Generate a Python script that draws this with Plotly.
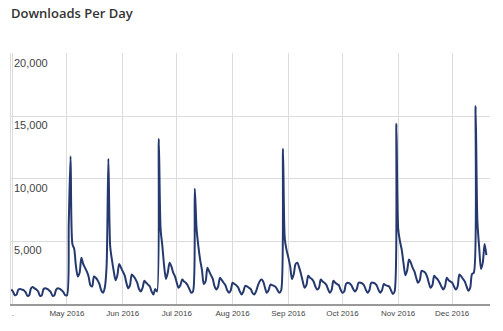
import plotly.graph_objects as go
import pandas as pd

start_date = "2016-03-31"
downloads = [
    1150,
    # April
    1000, 700, 750, 1150, 1200, 1150, 1100, 950, 650, 700,
    1250, 1350, 1250, 1150, 1000, 650, 700, 1200, 1250, 1200,
    1100, 950, 650, 700, 1150, 1250, 1200, 1100, 950, 700,
    # May
    700, 6500, 11800, 4800, 4400, 3000, 2200, 2500, 3700, 3200,
    2900, 2600, 2200, 1500, 1400, 2200, 2100, 1900, 1600, 1100,
    900, 1300, 3000, 11600, 4600, 3500, 2600, 1900, 2300, 3200, 2900,
    # June
    2600, 2300, 1700, 1250, 1500, 2350, 2200, 2000, 1700, 1200,
    1000, 1300, 1850, 1700, 1550, 1400, 1000, 750, 1200, 1000,
    13200, 6000, 4600, 3000, 2000, 2500, 3300, 3000, 2500, 2200,
    # July
    1700, 1300, 1500, 1950, 1800, 1700, 1500, 1200, 900, 1000,
    9200, 6000, 4600, 3500, 2700, 1600, 1800, 2900, 2600, 2300,
    2000, 1400, 1150, 1400, 2100, 1900, 1700, 1500, 1100, 900, 1100,
    # August
    1700, 1600, 1500, 1350, 1000, 750, 1000, 1450, 1400, 1300,
    1200, 900, 750, 1000, 1450, 1800, 1950, 1800, 1300, 900,
    1100, 1550, 1500, 1450, 1350, 1100, 900, 1100, 12400, 5200, 4300,
    # September
    3700, 3000, 2000, 2400, 3200, 3300, 2900, 2400, 1800, 1300,
    1500, 2250, 2100, 2000, 1800, 1400, 1150, 1300, 1950, 1800,
    1700, 1550, 1200, 900, 1100, 1850, 1700, 1600, 1500, 1150,
    # October
    900, 1000, 1600, 1700, 1650, 1500, 1200, 1000, 1200, 1700,
    1700, 1650, 1500, 1150, 900, 1100, 1700, 1700, 1650, 1500,
    1150, 900, 1100, 1600, 1500, 1450, 1400, 1100, 800, 1000, 14400,
    # November
    6000, 5000, 4300, 3200, 2300, 2700, 3550, 3300, 2900, 2600,
    2100, 1700, 1900, 2650, 2600, 2500, 2200, 1700, 1300, 1500,
    2250, 2100, 1950, 1700, 1400, 1150, 1400, 2100, 1900, 1800,
    # December
    1700, 1400, 1150, 1400, 2350, 2200, 2000, 1800, 1400, 1050,
    1300, 2400, 2500, 15800, 6600, 4500, 2800, 3300, 4800, 3900,
]
dates = pd.date_range(start_date, periods=len(downloads), freq="D")

month_ticks = ["2016-04-01", "2016-05-01", "2016-06-01", "2016-07-01", "2016-08-01",
               "2016-09-01", "2016-10-01", "2016-11-01", "2016-12-01"]
month_labels = [".", "May 2016", "Jun 2016", "Jul 2016", "Aug 2016",
                "Sep 2016", "Oct 2016", "Nov 2016", "Dec 2016"]
y_ticks = [5000, 10000, 15000, 20000]
y_labels = ["5,000", "10,000", "15,000", "20,000"]

fig = go.Figure()
fig.add_trace(go.Scatter(
    x=dates, y=downloads, mode="lines",
    line=dict(color="#25396f", width=2, shape="spline", smoothing=0.8),
    hoverinfo="skip",
))

for v, t in zip(y_ticks, y_labels):
    fig.add_annotation(
        x=0, xref="paper", xanchor="left", xshift=1,
        y=v, yref="y", yanchor="middle", yshift=-9,
        text=t, showarrow=False,
        font=dict(family="Liberation Sans", size=11, color="#444444"),
    )

fig.update_layout(
    width=503, height=331,
    margin=dict(l=11, r=13, t=53, b=27),
    paper_bgcolor="white", plot_bgcolor="white",
    showlegend=False,
    title=dict(
        text="Downloads Per Day",
        font=dict(family="Open Sans", size=13, color="#333333", weight=600),
        xref="container", yref="container",
        x=11 / 503, xanchor="left",
        y=1 - 13.5 / 331, yanchor="middle",
    ),
)
fig.update_xaxes(
    range=["2016-03-30 21:36", "2016-12-22 00:00"],
    tickvals=month_ticks, ticktext=month_labels,
    showgrid=True, gridcolor="#dcdcdc", gridwidth=1,
    showline=True, linecolor="#999999", linewidth=2,
    ticks="", zeroline=False,
    tickfont=dict(family="Liberation Sans", size=8, color="#444444"),
)
fig.update_yaxes(
    range=[0, 20040],
    tickvals=y_ticks, showticklabels=False,
    showgrid=True, gridcolor="#dcdcdc", gridwidth=1,
    showline=True, linecolor="#dcdcdc", linewidth=1,
    zeroline=False, ticks="",
)

fig.write_html("out.html")
